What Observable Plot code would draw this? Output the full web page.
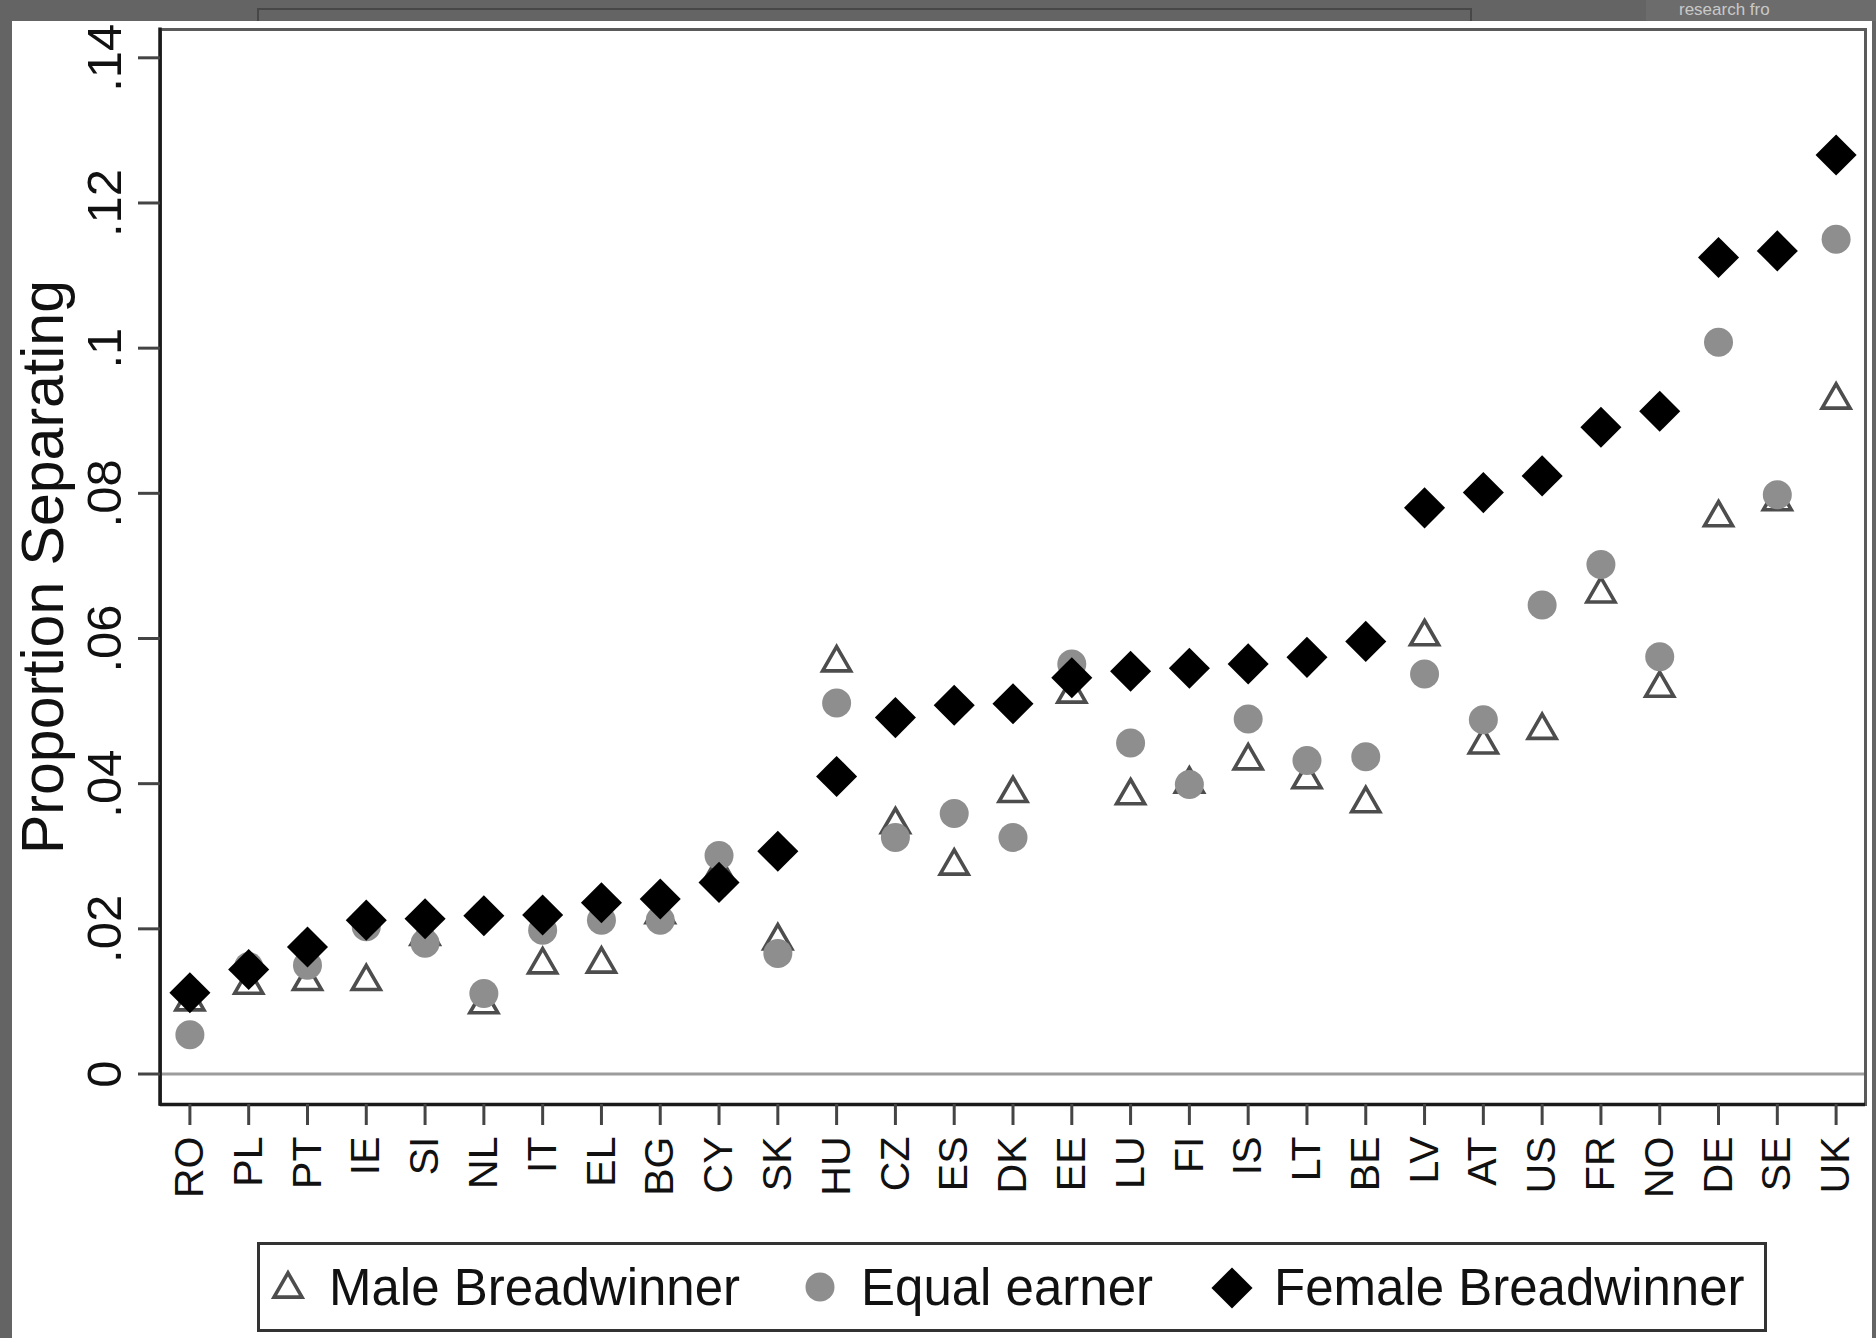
<!DOCTYPE html>
<html>
<head>
<meta charset="utf-8">
<script src="https://cdn.jsdelivr.net/npm/d3@7"></script>
<script src="https://cdn.jsdelivr.net/npm/@observablehq/plot@0.6"></script>
<style>
  html, body { margin: 0; padding: 0; width: 1876px; height: 1338px; overflow: hidden; background: #646464; font-family: "Liberation Sans", Arial, sans-serif; }
  #topbox { position: absolute; left: 257px; top: 8px; width: 1215px; height: 30px; border: 2px solid #474747; box-sizing: border-box; }
  #topright { position: absolute; left: 1646px; top: 0; width: 230px; height: 21px; background: #6c6c6c; overflow: hidden; }
  #topright span { position: absolute; left: 33px; top: 0px; font-size: 17px; line-height: 19px; color: #c9c9c9; white-space: nowrap; }
  #panel { position: absolute; left: 12px; top: 21px; width: 1860px; height: 1317px; background: #ffffff; }
  #chart { position: absolute; left: 0; top: 0; }
  #legend { position: absolute; left: 257px; top: 1242px; width: 1510px; height: 90px; box-sizing: border-box; border: 3px solid #333; background: #fff; }
  #legend svg { position: absolute; left: 0; top: 0; }
</style>
</head>
<body>
<div id="topbox"></div>
<div id="topright"><span>research fro</span></div>
<div id="panel"></div>
<div id="chart"></div>
<div id="legend"></div>
<script>
// ---- data ----
const countries = ["RO","PL","PT","IE","SI","NL","IT","EL","BG","CY","SK","HU","CZ","ES","DK","EE","LU","FI","IS","LT","BE","LV","AT","US","FR","NO","DE","SE","UK"];
const maleBreadwinner = [0.0105,0.0128,0.0133,0.0133,0.0195,0.0101,0.0156,0.0157,0.0225,0.0285,0.0189,0.0572,0.0349,0.0292,0.0392,0.0529,0.0389,0.0405,0.0437,0.0411,0.0378,0.0608,0.0459,0.0479,0.0667,0.0537,0.0772,0.0794,0.0934];
const equalEarner     = [0.0054,0.0148,0.0150,0.0203,0.0180,0.0111,0.0198,0.0212,0.0212,0.0301,0.0166,0.0511,0.0326,0.0359,0.0326,0.0565,0.0456,0.0399,0.0489,0.0432,0.0437,0.0551,0.0488,0.0646,0.0702,0.0575,0.1008,0.0798,0.1150];
const femaleBreadwinner = [0.0112,0.0144,0.0175,0.0212,0.0214,0.0218,0.0219,0.0236,0.0241,0.0264,0.0307,0.0410,0.0491,0.0508,0.0510,0.0546,0.0555,0.0559,0.0565,0.0574,0.0596,0.0780,0.0801,0.0824,0.0891,0.0913,0.1125,0.1134,0.1266];
const yTicks = [0, 0.02, 0.04, 0.06, 0.08, 0.10, 0.12, 0.14];
const yTickLabels = ["0", ".02", ".04", ".06", ".08", ".1", ".12", ".14"];
const yTitle = "Proportion Separating";
const seriesNames = ["Male Breadwinner", "Equal earner", "Female Breadwinner"];

const rows = countries.map((c, i) => ({
  country: c,
  male: maleBreadwinner[i],
  equal: equalEarner[i],
  female: femaleBreadwinner[i]
}));

const yDomain = [-0.0042, 0.1439];
const FONT = '"Liberation Sans", Arial, sans-serif';

const leftAxisLine = (index, scales, values, dims) => {
  const l = document.createElementNS("http://www.w3.org/2000/svg", "line");
  l.setAttribute("x1", dims.marginLeft);
  l.setAttribute("x2", dims.marginLeft);
  l.setAttribute("y1", dims.marginTop - 1.5);
  l.setAttribute("y2", dims.height - dims.marginBottom + 1.75);
  l.setAttribute("stroke", "#1a1a1a");
  l.setAttribute("stroke-width", 3.5);
  return l;
};

const chart = Plot.plot({
  width: 1876,
  height: 1236,
  marginLeft: 160,
  marginRight: 11,
  marginTop: 29,
  marginBottom: 132,
  style: { fontFamily: FONT, background: "transparent", color: "#111", overflow: "visible" },
  x: { type: "point", domain: countries, padding: 0.5, round: false, label: null },
  y: { domain: yDomain, label: null },
  marks: [
    Plot.ruleY([0], { stroke: "#9c9c9c", strokeWidth: 3 }),
    Plot.frame({ stroke: "#5a5a5a", strokeWidth: 3 }),
    Plot.ruleY([yDomain[0]], { stroke: "#1a1a1a", strokeWidth: 3.5 }),
    leftAxisLine,
    Plot.axisY({
      ticks: yTicks,
      tickFormat: d => yTickLabels[yTicks.indexOf(d)],
      tickSize: 22,
      tickPadding: 18,
      tickRotate: -90,
      fontSize: 49,
      stroke: "#444",
      strokeWidth: 3,
      fill: "#111",
      label: null
    }),
    Plot.axisX({
      tickSize: 21,
      tickPadding: 11,
      tickRotate: -90,
      fontSize: 41,
      stroke: "#444",
      strokeWidth: 3,
      fill: "#111",
      label: null
    }),
    Plot.text([yTitle], {
      text: d => d,
      frameAnchor: "left",
      textAnchor: "middle",
      lineAnchor: "middle",
      dx: -116,
      rotate: -90,
      fontSize: 59,
      fill: "#111"
    }),
    Plot.dot(rows, { x: "country", y: "male", symbol: "triangle", r: 10.4, dy: 4, fill: "none", stroke: "#4d4d4d", strokeWidth: 3.6 }),
    Plot.dot(rows, { x: "country", y: "equal", symbol: "circle", r: 14.5, fill: "#8e8e8e", stroke: "none" }),
    Plot.dot(rows, { x: "country", y: "female", symbol: "diamond2", r: 18.5, fill: "#000", stroke: "none" })
  ]
});
document.getElementById("chart").appendChild(chart);

// ---- legend (Stata-style boxed key) ----
const lg = d3.select("#legend").append("svg")
  .attr("width", 1504).attr("height", 84)
  .style("font-family", FONT);
const items = [
  { name: seriesNames[0], sym: d3.symbolTriangle, size: Math.PI * 10.4 * 10.4, cx: 28, cy: 44, fill: "none", stroke: "#4d4d4d", sw: 3.6, tx: 69 },
  { name: seriesNames[1], sym: d3.symbolCircle, size: Math.PI * 14.5 * 14.5, cx: 560, cy: 42, fill: "#8e8e8e", stroke: "none", sw: 0, tx: 601 },
  { name: seriesNames[2], sym: d3.symbolDiamond2, size: Math.PI * 18.5 * 18.5, cx: 972, cy: 43, fill: "#000", stroke: "none", sw: 0, tx: 1014 }
];
items.forEach(it => {
  lg.append("path")
    .attr("d", d3.symbol(it.sym, it.size)())
    .attr("transform", `translate(${it.cx},${it.cy})`)
    .attr("fill", it.fill)
    .attr("stroke", it.stroke)
    .attr("stroke-width", it.sw);
  lg.append("text")
    .attr("x", it.tx)
    .attr("y", 60)
    .attr("font-size", 51)
    .attr("fill", "#111")
    .text(it.name);
});
</script>
</body>
</html>
